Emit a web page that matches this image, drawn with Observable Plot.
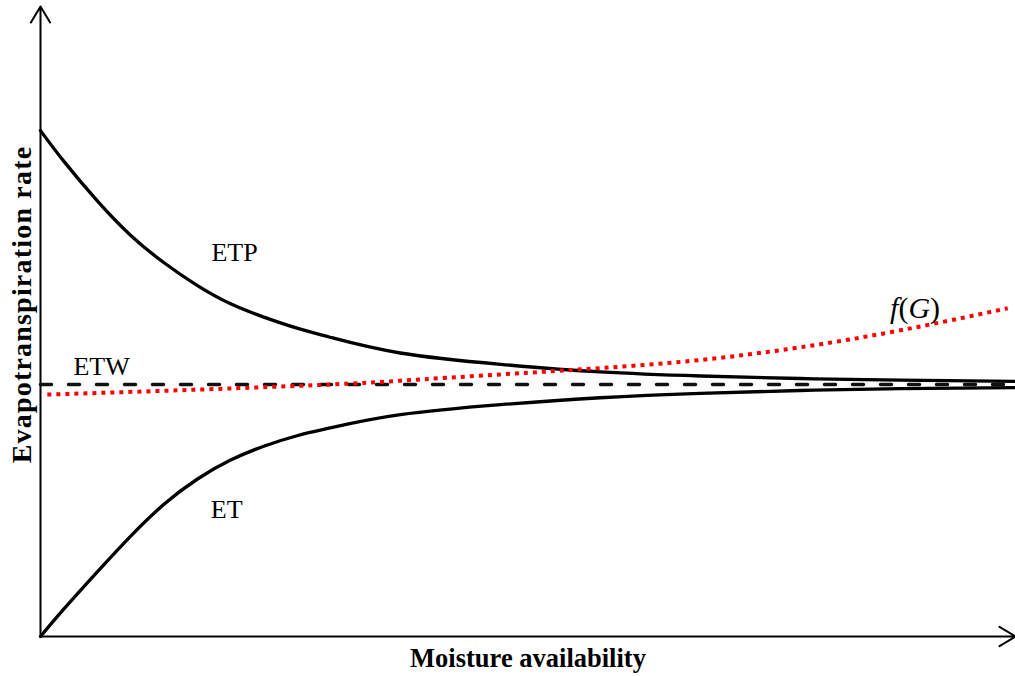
<!DOCTYPE html>
<html><head><meta charset="utf-8">
<script src="https://cdn.jsdelivr.net/npm/d3@7"></script>
<script src="https://cdn.jsdelivr.net/npm/@observablehq/plot@0.6"></script>
<style>body{margin:0;background:#fff}</style>
</head><body><div id="chart"></div>
<script>
// Moisture availability (0-100, arbitrary units) and rates (0-100, arbitrary units)
const moisture = [0, 2.36, 5.85, 9.23, 12.6, 16.1, 19.5, 22.9, 26.4, 29.7, 36.9, 47.2, 57.4, 67.7, 77.9, 88.2, 100];
const etpRate  = [80.3, 75.5, 69.1, 63.7, 59.4, 55.7, 52.8, 50.7, 48.9, 47.5, 45.0, 43.2, 42.0, 41.35, 40.95, 40.7, 40.5];
const etRate   = [0, 4.3, 10.3, 15.9, 20.9, 25.0, 28.0, 30.2, 31.9, 33.1, 35.2, 36.8, 37.9, 38.6, 39.05, 39.35, 39.5];
const etwMoisture = [0, 100];
const etwRate     = [40.0, 40.0];
const fgMoisture = [0.7, 16.4, 29.7, 36.9, 47.2, 57.4, 67.7, 77.9, 88.2, 99.2];
const fgRate     = [38.4, 39.2, 40.0, 40.6, 41.6, 42.6, 43.9, 45.9, 48.6, 52.1];

const curveNames = ["ETP", "ET", "ETW", "f(G)"];
const curveLabelX = [19.9, 19.1, 6.26, 89.7];
const curveLabelY = [60.9, 20.2, 42.8, 52.1];

const axisTitles = ["Moisture availability", "Evapotranspiration rate"];
const yTitleX = -1.85, yTitleY = 52.7;

const toRows = (xs, ys) => xs.map((m, i) => ({m, r: ys[i]}));
const etpData = toRows(moisture, etpRate);
const etData = toRows(moisture, etRate);
const etwData = toRows(etwMoisture, etwRate);
const fgData = toRows(fgMoisture, fgRate);
const labels = curveNames.map((name, i) => ({name, x: curveLabelX[i], y: curveLabelY[i]}));

const chart = Plot.plot({
  width: 1015, height: 676,
  marginLeft: 40, marginRight: 0, marginTop: 6, marginBottom: 40,
  x: {domain: [0, 100], axis: null},
  y: {domain: [0, 100], axis: null},
  style: {fontFamily: "'Liberation Serif', 'Times New Roman', serif", background: "#fff", color: "black"},
  marks: [
    Plot.arrow([{x1: 0, y1: 0, x2: 100, y2: 0}, {x1: 0, y1: 0, x2: 0, y2: 100}],
      {x1: "x1", y1: "y1", x2: "x2", y2: "y2", stroke: "black", strokeWidth: 2, headLength: 14, headAngle: 62}),
    Plot.line(etwData, {x: "m", y: "r", stroke: "#111", strokeWidth: 3.5, strokeDasharray: "11,17", strokeLinecap: "round"}),
    Plot.line(etpData, {x: "m", y: "r", stroke: "black", strokeWidth: 3.3, curve: "natural"}),
    Plot.line(etData, {x: "m", y: "r", stroke: "black", strokeWidth: 3.3, curve: "natural"}),
    Plot.line(fgData, {x: "m", y: "r", stroke: "#ff0000", strokeWidth: 4, strokeDasharray: "4,5", strokeLinecap: "butt", curve: "natural"}),
    Plot.text(labels, {x: "x", y: "y", text: "name", fontSize: 26, fill: "black", lineAnchor: "middle"}),
    Plot.text([axisTitles[0]], {frameAnchor: "bottom", dy: 22, fontSize: 26.5, fontWeight: "bold", fill: "black", lineAnchor: "middle"}),
    Plot.text([axisTitles[1]], {x: () => yTitleX, y: () => yTitleY, rotate: -90, fontSize: 28, fontWeight: "bold", fill: "black", lineAnchor: "middle"})
  ]
});

chart.querySelectorAll("text").forEach(t => {
  if (t.textContent === "Evapotranspiration rate") t.setAttribute("letter-spacing", "1.2");
  if (t.textContent === "f(G)") {
    // Math-style f(G): italic letters, upright parentheses
    t.textContent = "";
    t.setAttribute("font-size", 30);
    [["f", true], ["(", false], ["G", true], [")", false]].forEach(([s, it]) => {
      const ts = document.createElementNS("http://www.w3.org/2000/svg", "tspan");
      ts.textContent = s;
      if (it) ts.setAttribute("font-style", "italic");
      t.appendChild(ts);
    });
  }
});

document.getElementById("chart").appendChild(chart);
</script>
</body></html>
